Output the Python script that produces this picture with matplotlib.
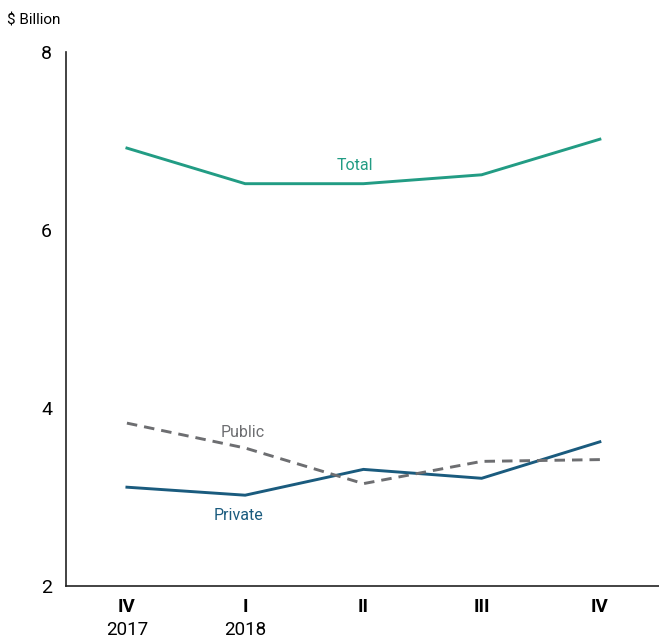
import matplotlib
matplotlib.use("Agg")
import matplotlib.pyplot as plt

quarters = ["IV", "I", "II", "III", "IV"]
years = ["2017", "2018", "", "", ""]
total = [6.92, 6.52, 6.52, 6.62, 7.02]
public = [3.83, 3.55, 3.15, 3.40, 3.42]
private = [3.11, 3.02, 3.31, 3.21, 3.62]
yticks = [2, 4, 6, 8]

plt.rcParams['font.family'] = ['Roboto', 'DejaVu Sans']

c_total = "#229c84"
c_private = "#1a5b7e"
c_public = "#6d6e71"

fig = plt.figure(figsize=(6.59, 6.40), dpi=100)
ax = fig.add_axes([0.1002, 0.0844, 0.8998, 0.8344])
x = list(range(len(quarters)))
ax.plot(x, total, color=c_total, lw=2.1, solid_joinstyle='miter')
ax.plot(x, private, color=c_private, lw=2.1, solid_joinstyle='miter')
ax.plot(x, public, color=c_public, lw=2.1, ls=(0, (3.6, 2.4)))

ax.set_xlim(-0.515, 4.5)
ax.set_ylim(2, 8)
ax.set_yticks(yticks)
ax.set_yticklabels([str(v) for v in yticks], fontsize=14)
ax.set_xticks(x)
ax.set_xticklabels(quarters, fontsize=13.5, fontweight='bold')
ax.tick_params(axis='both', length=0)
ax.tick_params(axis='y', pad=10)
ax.tick_params(axis='x', pad=9)
for s in ['top', 'right']:
    ax.spines[s].set_visible(False)
for s in ['left', 'bottom']:
    ax.spines[s].set_linewidth(1.2)
    ax.spines[s].set_color('#222222')

for xi, yr in zip(x, years):
    if yr:
        ax.text(xi, -0.083, yr, transform=ax.get_xaxis_transform(),
                ha='center', va='center', fontsize=13.5)

ax.text(1.93, 6.72, "Total", color=c_total, fontsize=11.5, ha='center', va='center')
ax.text(0.98, 3.72, "Public", color=c_public, fontsize=11.5, ha='center', va='center')
ax.text(0.94, 2.79, "Private", color=c_private, fontsize=11.5, ha='center', va='center')

fig.text(7/659, 1 - 20/640, "$ Billion", fontsize=11, ha='left', va='center')

fig.savefig("out.png", dpi=100)
